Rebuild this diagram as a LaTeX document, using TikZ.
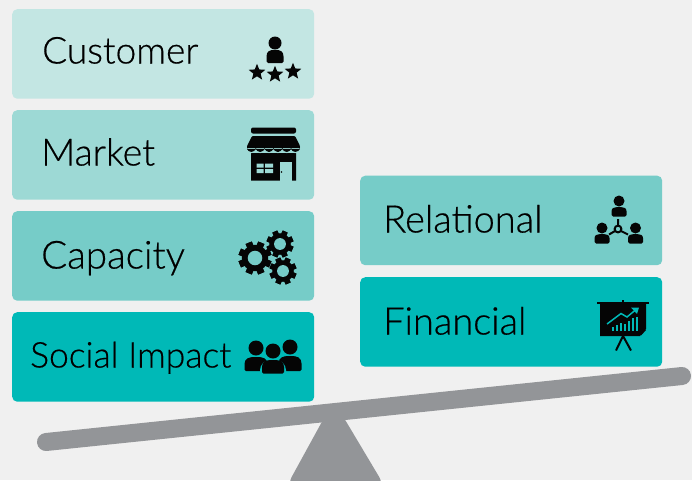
\documentclass[tikz,border=0pt]{standalone}
\usepackage{fontspec}
\setmainfont{Lato Light}[BoldFont=Lato,FakeBold=0.5]
\usetikzlibrary{shapes.geometric}
\definecolor{bgc}{HTML}{F0F0F0}
\definecolor{cA}{HTML}{C3E6E3}
\definecolor{cB}{HTML}{9DD9D5}
\definecolor{cC}{HTML}{76CCC8}
\definecolor{cD}{HTML}{00B9B7}
\definecolor{beamc}{HTML}{939598}
\definecolor{ink}{HTML}{050505}
\tikzset{
  box/.style={rounded corners=5pt,minimum width=302pt,minimum height=89.5pt,anchor=north west,inner sep=0pt},
  lbl/.style={anchor=base west,inner sep=0pt,text=black,font=\fontsize{37}{40}\selectfont},
  star5/.style={star,star points=5,star point ratio=2.3,fill=ink,inner sep=0pt,minimum size=17.5pt},
}
% person: head centre (#2,#3), head radius #4, body half width #5, body height #6, gap #7
\newcommand{\personicon}[7][ink]{%
  \fill[#1] (#2,#3) circle[radius=#4];
  \fill[#1,rounded corners=1.5pt] ({#2-#5},{#3+#4+#7+#6}) -- ({#2-#5},{#3+#4+#7+#6*0.6})
     .. controls ({#2-#5},{#3+#4+#7+#6*0.1}) and ({#2-#5*0.6},{#3+#4+#7}) .. (#2,{#3+#4+#7})
     .. controls ({#2+#5*0.6},{#3+#4+#7}) and ({#2+#5},{#3+#4+#7+#6*0.1}) .. ({#2+#5},{#3+#4+#7+#6*0.6})
     -- ({#2+#5},{#3+#4+#7+#6}) -- cycle;}
\newcommand{\gearicon}[4]{%
  \foreach \a in {0,45,...,315}{
    \fill[ink,rotate around={\a+22.5:(#1,#2)}] ({#1-#3*0.2},{#2-#3}) rectangle ({#1+#3*0.2},{#2+#3});
  }
  \fill[ink] (#1,#2) circle[radius={#3*0.8}];
  \fill[#4] (#1,#2) circle[radius={#3*0.44}];
}
\begin{document}
\begin{tikzpicture}[x=1pt,y=-1pt]
\useasboundingbox (0,0) rectangle (692,480);
\fill[bgc] (0,0) rectangle (692,480);
\begin{scope}
\clip (0,0) rectangle (692,480);
% boxes
\node[box,fill=cA] (customer) at (12,9) {};
\node[box,fill=cB] (market) at (12,110) {};
\node[box,fill=cC] (capacity) at (12,211) {};
\node[box,fill=cD] (social) at (12,312) {};
\node[box,fill=cC] (relational) at (360,175.5) {};
\node[box,fill=cD] (financial) at (360,277) {};
% labels
\node[lbl] (tcustomer) at (42,63.5) {Customer};
\node[lbl,font=\fontsize{37.5}{40}\selectfont] (tmarket) at (41,165.5) {Market};
\node[lbl,font=\fontsize{38.5}{40}\selectfont] (tcapacity) at (41,268.5) {Capacity};
\node[lbl,font=\fontsize{35.5}{38}\selectfont] (tsocial) at (30,367.5) {Social Impact};
\node[lbl,font=\fontsize{38}{40}\selectfont] (trelational) at (383,232.5) {Relational};
\node[lbl,font=\fontsize{38}{40}\selectfont] (tfinancial) at (383,334.5) {Financial};
% beam and stand
\fill[beamc,rounded corners=3pt] (324,418) -- (344,418) -- (381,480) -- (381,490) -- (290,490) -- (290,480) -- cycle;
\coordinate (beamL) at (46,442);
\coordinate (beamR) at (682,376);
\draw[beamc,line width=18pt,line cap=round] (beamL) -- (beamR);
% customer icon
\personicon{275}{43}{6.5}{8.5}{13}{0.5}
\node[star5] (s1) at (257,72.5) {};
\node[star5] (s2) at (275,74.5) {};
\node[star5] (s3) at (293,71.5) {};
% market icon
\fill[ink,rounded corners=2pt] (251,127.5) rectangle (296,133.5);
\fill[ink,rounded corners=1pt] (252,136) -- (295,136) -- (300,146) -- (300,148) -- (247,148) -- (247,146) -- cycle;
\foreach \x in {247,255.8,264.6,273.4,282.2,291}{\fill[ink] (\x,147) rectangle ({\x+8.9},149) ({\x+4.45},149) ellipse[x radius=4.45,y radius=3];}
\fill[ink] (251,153) -- (254,153) -- (296,153) -- (296,180.5) -- (251,180.5) -- cycle;
\fill[cB] (247,150.5) .. controls (249,154) and (253,154) .. (255.8,150.5) .. controls (258,154) and (262,154) .. (264.6,150.5) .. controls (267,154) and (271,154) .. (273.4,150.5) .. controls (276,154) and (280,154) .. (282.2,150.5) .. controls (285,154) and (289,154) .. (291,150.5) .. controls (293,154) and (297,154) .. (300,150.5) -- (300,149.6) .. controls (297,153) and (293,153) .. (291,149.6) .. controls (289,153) and (285,153) .. (282.2,149.6) .. controls (280,153) and (276,153) .. (273.4,149.6) .. controls (271,153) and (267,153) .. (264.6,149.6) .. controls (262,153) and (258,153) .. (255.8,149.6) .. controls (253,153) and (249,153) .. (247,149.6) -- cycle;
\fill[cB] (256.5,163.5) rectangle (263.5,167.5) (265,163.5) rectangle (273,167.5) (256.5,169) rectangle (263.5,173) (265,169) rectangle (273,173);
\fill[cB] (280,162) rectangle (292,181);
\fill[ink] (281.5,172) circle[radius=0.8];
% gears
\gearicon{255}{258}{16.5}{cC}
\gearicon{280}{244}{13.5}{cC}
\gearicon{283}{271}{13.5}{cC}
% social icon
\personicon{256}{348}{7.5}{11.5}{14}{1.5}
\personicon{290}{347}{7.5}{11.5}{15}{1.5}
\fill[cD] (273,351) circle[radius=9];
\fill[cD,rounded corners=4pt] (260,377) -- (260,366) -- (266,360) -- (280,360) -- (286,366) -- (286,377) -- cycle;
\personicon{273}{351}{7.5}{11}{13.5}{1.5}
% relational icon
\personicon{619}{201}{5.5}{7.5}{9.5}{0.5}
\personicon{602}{228}{5.5}{7.5}{9.5}{0.5}
\personicon{635.5}{228}{5.5}{7.5}{9.5}{0.5}
\draw[ink,line width=2pt] (618,219) -- (618,225.5) (615,231) -- (609,234.5) (621,231) -- (628,234.5);
\draw[ink,line width=2pt] (618,229) circle[radius=3.4];
% financial icon
\fill[ink] (622,299.5) rectangle (624,303);
\fill[ink] (597,301.5) rectangle (649,303.5);
\fill[ink] (600,303) -- (646,303) -- (646,329) -- (640,336) -- (600,336) -- cycle;
\fill[ink] (641,329.5) -- (646,330) -- (641,335.5) -- cycle;
\draw[ink,line width=2pt] (623,336) -- (616,350.5) (623,336) -- (631,350.5);
\draw[cD,line width=1.5pt] (607,324) -- (621,313.5) -- (627,317) -- (636,309.5);
\fill[cD] (639,307.5) -- (631,307.5) -- (637,314) -- cycle;
\foreach \x/\h in {612/4,616/6,620/8,624/7,628/10,632/13,635.5/14}{\fill[cD] (\x,331) rectangle ({\x+2},{331-\h});}
\end{scope}
\end{tikzpicture}
\end{document}
